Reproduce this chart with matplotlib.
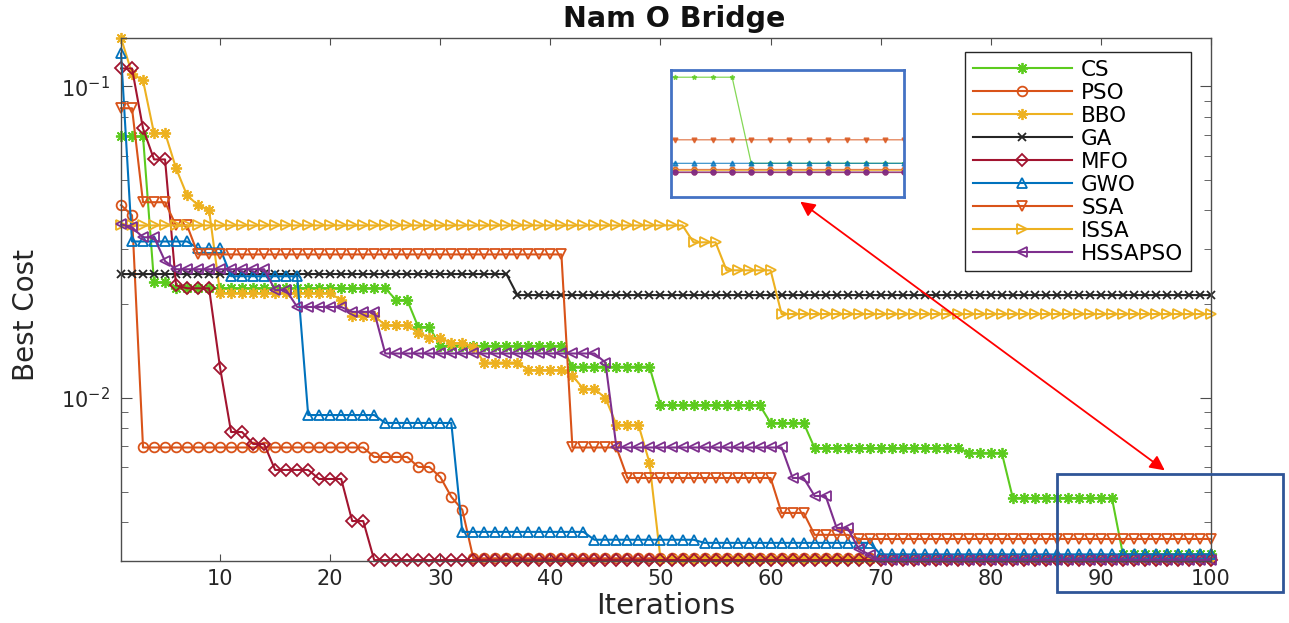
import numpy as np
import matplotlib
matplotlib.use("Agg")
import matplotlib.pyplot as plt
from matplotlib.patches import Rectangle, FancyArrowPatch
from matplotlib.ticker import NullLocator, LogLocator

# ---------------- data ----------------
iterations = np.arange(1, 101)

cs = ([0.0691] * 3 + [0.0235] * 2 + [0.0225] * 20 + [0.0206] * 2 + [0.0169] * 2 +
      [0.0147] * 12 + [0.0126] * 8 + [0.0095] * 10 + [0.00832] * 4 + [0.00691] * 14 +
      [0.00667] * 4 + [0.00478] * 10 + [0.00315] * 9)

pso = ([0.0416, 0.0386] + [0.00694] * 21 + [0.00647] * 4 + [0.00601] * 2 +
       [0.00558] + [0.00482] + [0.00438] + [0.00306] * 68)

bbo = ([0.143, 0.110, 0.1045, 0.0707, 0.071, 0.0546, 0.0447, 0.0416, 0.0401] +
       [0.0217] * 11 + [0.0206] + [0.0184] * 3 + [0.0171] * 3 + [0.0162] +
       [0.0156] * 2 + [0.0150] * 2 + [0.0146] + [0.0130] * 4 + [0.0123] * 4 +
       [0.0118] + [0.0107] * 2 + [0.0100] + [0.0082] * 3 + [0.0062] + [0.00305] * 51)

ga = [0.0250] * 36 + [0.0214] * 64

mfo = ([0.1142] * 2 + [0.0733] + [0.0583] * 2 + [0.0230] + [0.0225] * 3 + [0.0125] +
       [0.00778] * 2 + [0.00712] * 2 + [0.00588] * 4 + [0.0055] * 3 + [0.00403] * 2 +
       [0.00302] * 77)

gwo = ([0.1276] + [0.0318] * 6 + [0.0302] * 3 + [0.0246] * 7 + [0.00882] * 7 +
       [0.00832] * 7 + [0.00372] * 12 + [0.00351] * 10 + [0.00343] * 16 + [0.00315] * 31)

ssa = ([0.0851] * 2 + [0.0425] * 3 + [0.0358] * 2 + [0.0289] * 34 + [0.00694] * 5 +
       [0.00554] * 14 + [0.00428] * 3 + [0.00364] * 4 + [0.00353] * 33)

issa = [0.0358] * 52 + [0.0316] * 3 + [0.0257] * 5 + [0.0186] * 40

hssapso = ([0.0361, 0.0353, 0.0328, 0.0328, 0.0275] + [0.0259] * 9 + [0.0222] * 2 +
           [0.0196] * 5 + [0.0189] * 3 + [0.0139] * 20 + [0.0130] + [0.00694] * 16 +
           [0.00554] * 2 + [0.00485] * 2 + [0.00383] * 2 + [0.00328] + [0.00314] +
           [0.00302] * 31)

labels = ["CS", "PSO", "BBO", "GA", "MFO", "GWO", "SSA", "ISSA", "HSSAPSO"]
series = [cs, pso, bbo, ga, mfo, gwo, ssa, issa, hssapso]
colors = ["#5CCB1E", "#D95319", "#EDB120", "#262626", "#A2142F",
          "#0072BD", "#D95319", "#EDB120", "#7E2F8E"]
markers = [(8, 2, 0), "o", (8, 2, 0), "x", "D", "^", "v", ">", "<"]
msizes = [8, 7, 8, 6, 6, 7.5, 7.5, 7.5, 7.5]

# ---------------- figure ----------------
plt.rcParams["font.family"] = ["DejaVu Sans"]
W, H = 1289, 623
fig = plt.figure(figsize=(W / 100, H / 100), dpi=100)
fig.patch.set_facecolor("white")

ax = fig.add_axes([121 / W, 1 - 561 / H, (1211 - 121) / W, (561 - 38) / H])
for y, lab, c, m, ms in zip(series, labels, colors, markers, msizes):
    ax.semilogy(iterations, y, color=c, marker=m, markersize=ms,
                markerfacecolor="none", markeredgewidth=1.3, linewidth=1.5,
                label=lab, clip_on=False)

ax.set_xlim(1, 100)
ax.set_ylim(0.003, 0.143)
ax.set_xticks(np.arange(10, 101, 10))
ax.yaxis.set_major_locator(LogLocator(base=10, numticks=10))
ax.yaxis.set_minor_locator(LogLocator(base=10, subs=np.arange(2, 10), numticks=10))
for s in ax.spines.values():
    s.set_color("#4D4D4D")
    s.set_linewidth(1.0)
ax.tick_params(which="both", direction="in", top=True, right=True, colors="#4D4D4D",
               labelcolor="#262626", labelsize=15)
ax.tick_params(axis="x", which="major", length=5, pad=6)
ax.tick_params(axis="y", which="major", length=8, pad=8)
ax.tick_params(axis="y", which="minor", length=5)

ax.set_xlabel("Iterations", fontsize=21, color="#262626")
ax.xaxis.set_label_coords(0.5, -0.06)
ax.set_ylabel("Best Cost", fontsize=20, color="#262626")
ax.yaxis.set_label_coords(-0.074, 0.47)
fig.text(0.523, 1 - 19 / H, "Nam O Bridge", fontsize=20.5, fontweight="bold",
         ha="center", va="center", color="#111111")

leg = ax.legend(loc="upper right", bbox_to_anchor=(1191 / W, 1 - 52 / H),
                bbox_transform=fig.transFigure, fontsize=15.5, handlelength=4.6,
                handletextpad=0.45, labelspacing=0.14, borderpad=0.35,
                borderaxespad=0, fancybox=False, framealpha=1)
leg.get_frame().set_edgecolor("#262626")
leg.get_frame().set_linewidth(1.0)

# ---------------- inset (zoom on iterations 88-100) ----------------
axins = fig.add_axes([671 / W, 1 - 197 / H, (904 - 671) / W, (197 - 70) / H])
inset_markers = ["*", "o", "*", "x", "o", "^", "v", ">", "o"]
for y, c, m in zip(series, colors, inset_markers):
    axins.semilogy(iterations, y, color=c, marker=m, markersize=3.5,
                   linewidth=0.9, alpha=0.75)
axins.set_xlim(87.8, 100)
axins.set_ylim(0.002676, 0.00495)
axins.set_xticks([])
axins.set_yticks([])
axins.yaxis.set_minor_locator(NullLocator())
for s in axins.spines.values():
    s.set_color("#4472C4")
    s.set_linewidth(2.0)

# ---------------- highlight box and arrow ----------------
fig.patches.append(Rectangle((1057 / W, 1 - 592 / H), (1283 - 1057) / W, (592 - 474) / H,
                             transform=fig.transFigure, fill=False,
                             edgecolor="#2F5597", linewidth=2.0))
fig.patches.append(FancyArrowPatch((798 / W, 1 - 200 / H), (1167 / W, 1 - 472 / H),
                                   transform=fig.transFigure, arrowstyle="<|-|>",
                                   mutation_scale=22, color="red", linewidth=1.3))

fig.savefig("out.png", dpi=100)
